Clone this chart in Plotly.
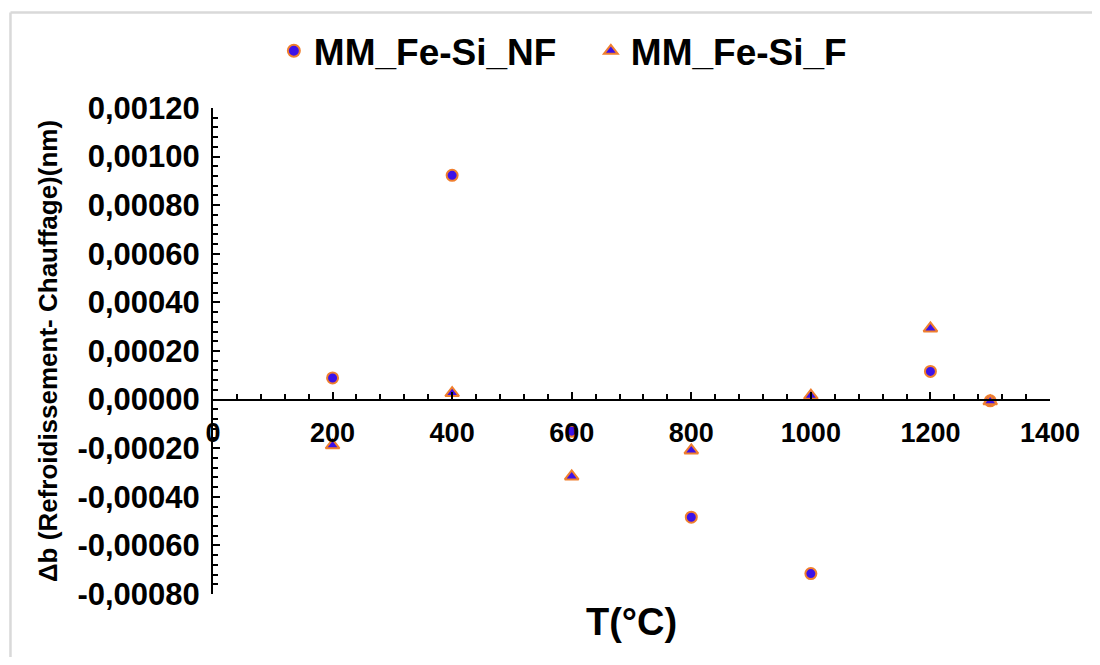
import plotly.graph_objects as go

# Data
temps = [200, 400, 600, 800, 1000, 1200, 1300]
nf_values = [0.000089, 0.000923, -0.000130, -0.000484, -0.000716, 0.000116, -0.000005]
f_values = [-0.000188, 0.000027, -0.000316, -0.000209, 0.000016, 0.000293, -0.000007]

series_names = ["MM_Fe-Si_NF", "MM_Fe-Si_F"]
x_title = "T(°C)"
y_title = "Δb (Refroidissement- Chauffage)(nm)"

y_tickvals = [-0.0008, -0.0006, -0.0004, -0.0002, 0.0, 0.0002, 0.0004, 0.0006, 0.0008, 0.0010, 0.0012]
y_ticktext = ["-0,00080", "-0,00060", "-0,00040", "-0,00020", "0,00000", "0,00020",
              "0,00040", "0,00060", "0,00080", "0,00100", "0,00120"]

FONT = "Liberation Sans, Arial, sans-serif"
BLUE = "#3C12E8"
ORANGE = "#F07F2E"

fig = go.Figure()
fig.add_trace(go.Scatter(
    x=temps, y=nf_values, mode="markers", name=series_names[0],
    marker=dict(symbol="circle", size=11, color=BLUE, line=dict(color=ORANGE, width=2)),
))
fig.add_trace(go.Scatter(
    x=temps, y=f_values, mode="markers", name=series_names[1],
    marker=dict(symbol="triangle-up", size=12, color=BLUE, line=dict(color=ORANGE, width=2)),
))

ymin, ymax = -0.0008, 0.0012

# page body has an 8px margin: figure is drawn at (8, 8) on the page,
# sized so that the page does not overflow the 1100x665 window
fig.update_layout(
    width=1084, height=649,
    margin=dict(l=205, r=40, t=98, b=63),
    paper_bgcolor="white", plot_bgcolor="white",
    separators=",.",
    font=dict(family=FONT, color="black"),
    showlegend=True,
    legend=dict(
        orientation="h", x=(274 - 213) / 839, xanchor="left", y=(594 - 49) / 488, yanchor="middle",
        font=dict(size=37, family=FONT, color="black", weight="bold"),
        itemsizing="constant", entrywidth=272, entrywidthmode="pixels",
    ),
    xaxis=dict(
        range=[0, 1400], dtick=200, tick0=0, tickformat="d",
        anchor="free", position=(0 - ymin) / (ymax - ymin),
        showline=True, linecolor="black", linewidth=2,
        ticks="inside", ticklen=7, tickwidth=2, tickcolor="black",
        minor=dict(dtick=40, tick0=0, ticks="inside", ticklen=5, tickwidth=1.5, tickcolor="black"),
        showgrid=False, zeroline=False,
        ticklabelstandoff=9,
        tickfont=dict(size=27, family=FONT, color="black", weight="bold"),
    ),
    yaxis=dict(
        range=[ymin, ymax], tickmode="array", tickvals=y_tickvals, ticktext=y_ticktext,
        showline=True, linecolor="black", linewidth=2,
        ticks="inside", ticklen=7, tickwidth=2, tickcolor="black",
        minor=dict(tickmode="linear", dtick=0.00004, tick0=-0.0008, ticks="inside", ticklen=5,
                   tickwidth=1.5, tickcolor="black"),
        showgrid=False, zeroline=False,
        ticklabelstandoff=5,
        tickfont=dict(size=31, family=FONT, color="black", weight="bold"),
        title=dict(text=y_title, font=dict(size=26, family=FONT, color="black", weight="bold"), standoff=12),
    ),
)

fig.add_annotation(
    text=x_title, xref="paper", yref="paper",
    x=(632 - 213) / 839, y=(594 - 622) / 488,
    xanchor="center", yanchor="middle", showarrow=False,
    font=dict(size=38, family=FONT, color="black", weight="bold"),
)

# light grey outer frame: only the top and left edges are visible in the reference
frame_left = (10 - 213) / 839
frame_top = (594 - 10) / 488
fig.add_shape(type="line", xref="paper", yref="paper",
              x0=frame_left, x1=(1099 - 213) / 839, y0=frame_top, y1=frame_top,
              line=dict(color="#D9D9D9", width=2.5), layer="below")
fig.add_shape(type="line", xref="paper", yref="paper",
              x0=frame_left, x1=frame_left, y0=frame_top, y1=(594 - 665) / 488,
              line=dict(color="#D9D9D9", width=2.5), layer="below")

fig.write_html("out.html")
